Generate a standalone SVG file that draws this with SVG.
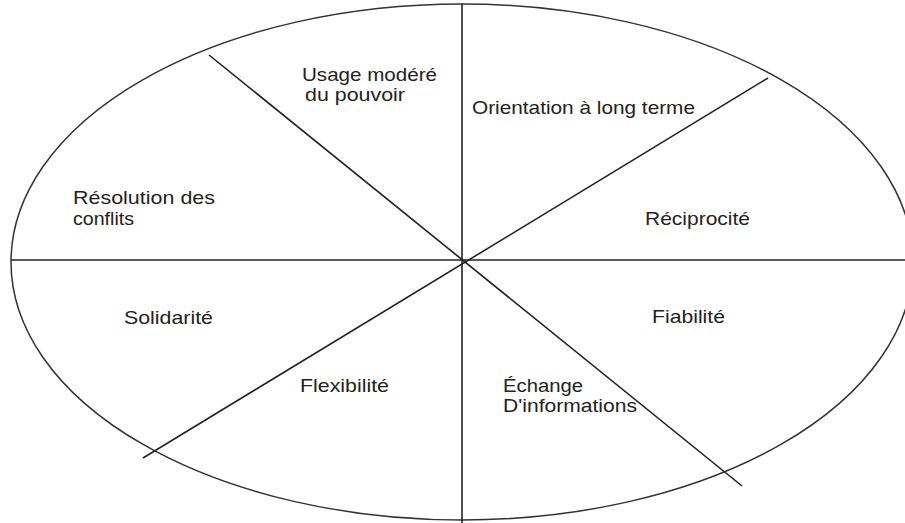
<svg xmlns="http://www.w3.org/2000/svg" width="905" height="523" viewBox="0 0 905 523">
  <style>
    .lbl { font-family: "Liberation Sans", Arial, sans-serif; font-size: 19px; fill: #222; }
    .ln { stroke: #222; stroke-width: 1.6; fill: none; }
    .el { stroke: #333; stroke-width: 1.5; fill: #fff; }
  </style>
  <rect width="905" height="523" fill="#fff"/>
  <ellipse id="wheel" class="el" cx="462" cy="262" rx="451" ry="258"/>
  <g id="connectors">
    <line class="ln" x1="462" y1="4" x2="462" y2="523"/>
    <line class="ln" x1="11" y1="260" x2="905" y2="260"/>
    <line class="ln" x1="209" y1="55" x2="742" y2="486"/>
    <line class="ln" x1="768" y1="78" x2="143" y2="458"/>
  </g>
  <g id="usage">
    <text class="lbl" x="302" y="80.5" textLength="135" lengthAdjust="spacingAndGlyphs">Usage modéré</text>
    <text class="lbl" x="305" y="100.5" textLength="100" lengthAdjust="spacingAndGlyphs">du pouvoir</text>
  </g>
  <g id="orientation">
    <text class="lbl" x="472" y="114" textLength="223" lengthAdjust="spacingAndGlyphs">Orientation à long terme</text>
  </g>
  <g id="resolution">
    <text class="lbl" x="73" y="204" textLength="142" lengthAdjust="spacingAndGlyphs">Résolution des</text>
    <text class="lbl" x="73" y="225" textLength="61" lengthAdjust="spacingAndGlyphs">conflits</text>
  </g>
  <g id="reciprocite">
    <text class="lbl" x="645" y="225" textLength="105" lengthAdjust="spacingAndGlyphs">Réciprocité</text>
  </g>
  <g id="solidarite">
    <text class="lbl" x="124" y="324" textLength="89" lengthAdjust="spacingAndGlyphs">Solidarité</text>
  </g>
  <g id="fiabilite">
    <text class="lbl" x="652" y="323" textLength="73" lengthAdjust="spacingAndGlyphs">Fiabilité</text>
  </g>
  <g id="flexibilite">
    <text class="lbl" x="300" y="392" textLength="89" lengthAdjust="spacingAndGlyphs">Flexibilité</text>
  </g>
  <g id="echange">
    <text class="lbl" x="503" y="392" textLength="80" lengthAdjust="spacingAndGlyphs">Échange</text>
    <text class="lbl" x="503" y="412" textLength="134" lengthAdjust="spacingAndGlyphs">D'informations</text>
  </g>
</svg>
